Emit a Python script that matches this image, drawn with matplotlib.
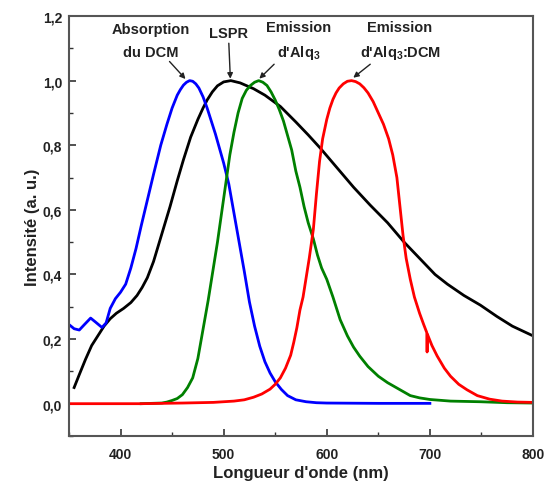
import matplotlib
matplotlib.use("Agg")
import matplotlib.pyplot as plt
from matplotlib.ticker import MultipleLocator, FuncFormatter

plt.rcParams['font.family'] = ['Liberation Sans', 'DejaVu Sans']
plt.rcParams['font.weight'] = 'bold'
plt.rcParams['mathtext.fontset'] = 'custom'
plt.rcParams['mathtext.rm'] = 'Liberation Sans:bold'
plt.rcParams['mathtext.it'] = 'Liberation Sans:bold'
plt.rcParams['mathtext.bf'] = 'Liberation Sans:bold'

# Absorption du DCM (blue)
wl_abs = [350, 355, 360, 365, 371, 376, 382, 386, 390, 395, 400, 405, 410, 415, 420, 426, 432,
          439, 445, 450, 455, 458, 461, 464, 467, 470, 473, 476, 480, 484, 488, 492, 496, 500,
          505, 510, 515, 520, 525, 530, 535, 540, 545, 550, 556, 562, 570, 580, 590, 600, 650, 700]
i_abs = [0.245, 0.232, 0.228, 0.245, 0.265, 0.252, 0.236, 0.25, 0.295, 0.325, 0.345, 0.37, 0.42,
         0.48, 0.55, 0.63, 0.71, 0.80, 0.865, 0.915, 0.955, 0.972, 0.986, 0.995, 1.0, 0.998,
         0.99, 0.977, 0.95, 0.915, 0.875, 0.835, 0.79, 0.745, 0.68, 0.59, 0.50, 0.41, 0.315,
         0.24, 0.178, 0.13, 0.095, 0.068, 0.044, 0.025, 0.012, 0.006, 0.003, 0.002, 0.001, 0.001]

# LSPR (black)
wl_lspr = [355, 360, 366, 372, 378, 384, 390, 396, 403, 410, 416, 421, 426, 432, 440, 448, 455,
           461, 468, 475, 480, 484, 489, 494, 500, 507, 516, 529, 540, 555, 570, 582, 594, 610,
           626, 642, 659, 675, 690, 705, 717, 733, 749, 765, 780, 800]
i_lspr = [0.05, 0.09, 0.137, 0.18, 0.21, 0.24, 0.263, 0.28, 0.295, 0.313, 0.335, 0.36, 0.39,
          0.44, 0.525, 0.61, 0.69, 0.755, 0.825, 0.88, 0.915, 0.94, 0.965, 0.984, 0.996, 1.0,
          0.993, 0.975, 0.955, 0.92, 0.872, 0.832, 0.79, 0.73, 0.67, 0.615, 0.56, 0.50, 0.45,
          0.40, 0.37, 0.335, 0.305, 0.27, 0.24, 0.21]

# Emission d'Alq3 (green)
wl_alq = [420, 440, 445, 450, 455, 460, 465, 470, 475, 480, 485, 490, 494, 498, 502, 506, 510,
          514, 518, 522, 526, 530, 534, 538, 542, 546, 550, 554, 558, 562, 566, 570, 574, 578,
          582, 587, 591, 595, 600, 606, 613, 620, 626, 632, 640, 650, 659, 670, 681, 690, 700,
          720, 749, 775, 800]
i_alq = [0.0, 0.002, 0.005, 0.01, 0.016, 0.028, 0.05, 0.08, 0.14, 0.23, 0.32, 0.42, 0.50, 0.59,
         0.68, 0.77, 0.84, 0.90, 0.945, 0.97, 0.985, 0.995, 1.0, 0.995, 0.985, 0.965, 0.94, 0.91,
         0.875, 0.83, 0.785, 0.72, 0.67, 0.61, 0.56, 0.51, 0.46, 0.42, 0.385, 0.33, 0.26, 0.21,
         0.175, 0.147, 0.115, 0.085, 0.065, 0.045, 0.025, 0.018, 0.013, 0.008, 0.006, 0.003, 0.002]

# Emission d'Alq3:DCM (red)
wl_dcm = [350, 380, 420, 460, 490, 510, 520, 529, 537, 545, 550, 555, 560, 565, 568, 571, 574,
          577, 580, 583, 587, 590, 593, 596, 600, 603, 606, 609, 612, 616, 620, 624, 628, 632,
          636, 640, 645, 650, 655, 660, 664, 668, 671, 674, 677, 681, 685, 690, 694, 697, 697.3,
          697.6, 702, 707, 714, 720, 728, 736, 746, 758, 770, 785, 800]
i_dcm = [0.0, 0.0, 0.0, 0.002, 0.004, 0.008, 0.012, 0.02, 0.03, 0.045, 0.06, 0.08, 0.11, 0.15,
         0.19, 0.235, 0.29, 0.33, 0.39, 0.45, 0.54, 0.65, 0.75, 0.82, 0.88, 0.915, 0.942, 0.962,
         0.977, 0.99, 0.998, 1.0, 0.997, 0.99, 0.978, 0.962, 0.935, 0.90, 0.865, 0.82, 0.77,
         0.70, 0.61, 0.52, 0.45, 0.385, 0.33, 0.28, 0.245, 0.22, 0.16, 0.215, 0.18, 0.148, 0.11,
         0.085, 0.06, 0.043, 0.025, 0.014, 0.008, 0.005, 0.004]

fig = plt.figure(figsize=(5.47, 5.02), dpi=100)
ax = fig.add_axes([0.1261, 0.1295, 0.8483, 0.8366])

lw = 2.0
ax.plot(wl_lspr, i_lspr, color='black', lw=lw)
ax.plot(wl_abs, i_abs, color='#0000ff', lw=lw)
ax.plot(wl_alq, i_alq, color='#008000', lw=lw)
ax.plot(wl_dcm, i_dcm, color='#ff0000', lw=lw)

ax.set_xlim(350, 800)
ax.set_ylim(-0.1, 1.2)
ax.xaxis.set_major_locator(MultipleLocator(100))
ax.xaxis.set_minor_locator(MultipleLocator(50))
ax.yaxis.set_major_locator(MultipleLocator(0.2))
ax.yaxis.set_minor_locator(MultipleLocator(0.1))
ax.xaxis.set_major_formatter(FuncFormatter(lambda v, p: '' if v < 390 else f'{v:.0f}'))
ax.yaxis.set_major_formatter(FuncFormatter(lambda v, p: f'{v:.1f}'.replace('.', ',')))

ax.tick_params(which='both', direction='in', top=False, right=False,
               labelsize=10, colors='#333333', labelcolor='#222222')
ax.tick_params(which='major', length=5, width=1.2)
ax.tick_params(which='minor', length=3, width=1.0)
ax.tick_params(axis='x', pad=8)
ax.tick_params(axis='y', pad=5)
for s in ax.spines.values():
    s.set_color('#555555')
    s.set_linewidth(1.5)

ax.set_xlabel("Longueur d'onde (nm)", fontsize=12, fontweight='bold', color='#222222', labelpad=3)
ax.set_ylabel("Intensité (a. u.)", fontsize=12, fontweight='bold', color='#222222', labelpad=2)

ann_kw = dict(fontsize=10.5, fontweight='bold', color='#222222', ha='center', va='center',
              linespacing=1.75,
              arrowprops=dict(arrowstyle='-|>', color='#222222', lw=1.0, mutation_scale=8,
                              shrinkA=0, shrinkB=0))
ax.annotate("Absorption\ndu DCM", xy=(463, 1.005), xytext=(429, 1.124), **ann_kw)
ax.annotate("LSPR", xy=(506.5, 1.006), xytext=(504.6, 1.146), **ann_kw)
ax.annotate("Emission\nd'Alq$_3$", xy=(534.6, 1.006), xytext=(572.4, 1.124), **ann_kw)
ax.annotate("Emission\nd'Alq$_3$:DCM", xy=(625.7, 1.009), xytext=(671, 1.124), **ann_kw)

fig.savefig("out.png", dpi=100)
